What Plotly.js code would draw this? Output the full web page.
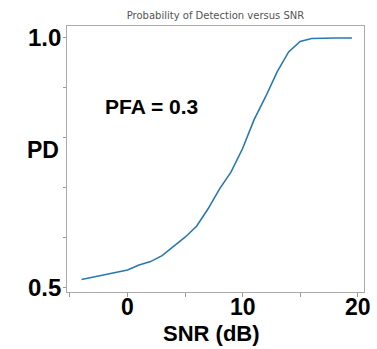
<!DOCTYPE html>
<html>
<head>
<meta charset="utf-8">
<script src="https://cdn.plot.ly/plotly-3.0.1.min.js"></script>
<style>html,body{margin:0;padding:0;background:#fff;}#chart{width:377px;height:349px;}</style>
</head>
<body>
<div id="chart"></div>
<script>
// Data
var snr = [-4, -3, -2, -1, 0, 1, 2, 3, 4, 5, 6, 7, 8, 9, 10, 11, 12, 13, 14, 15, 16, 17, 18, 19, 19.5];
var pd  = [0.515, 0.520, 0.525, 0.530, 0.534, 0.544, 0.551, 0.563, 0.581, 0.600, 0.622, 0.657, 0.697, 0.731, 0.778, 0.836, 0.882, 0.932, 0.972, 0.993, 0.999, 1.0, 1.0, 1.0, 1.0];

var xTickVals = [-5, 0, 5, 10, 15, 20];
var xTickText = ['', '0', '', '10', '', '20'];
var yTickVals = [0.5, 0.6, 0.7, 0.8, 0.9, 1.0];
var yTickText = ['0.5', '', '', '', '', '1.0'];

var titleText = 'Probability of Detection versus SNR';
var xLabel = 'SNR (dB)';
var yLabel = 'PD';
var noteText = 'PFA = 0.3';

var trace = {
  x: snr, y: pd, type: 'scatter', mode: 'lines',
  line: {color: '#2a78b0', width: 1.6},
  hoverinfo: 'skip'
};

var boldFont = 'Liberation Sans';
function bf(size) { return {family: boldFont, size: size, color: '#000', weight: 'bold'}; }

var annotations = [
  {text: '<b>' + yLabel + '</b>', xref: 'paper', yref: 'paper', x: -0.081, y: 0.534,
   xanchor: 'center', yanchor: 'middle', showarrow: false, font: bf(23)},
  {text: '<b>' + xLabel + '</b>', xref: 'paper', yref: 'paper', x: 0.485, y: -0.157,
   xanchor: 'center', yanchor: 'middle', showarrow: false, font: bf(22), borderpad: 0},
  {text: '<b>' + noteText + '</b>', xref: 'x', yref: 'y', x: 2.04, y: 0.862,
   xanchor: 'center', yanchor: 'middle', showarrow: false, font: bf(21)}
];
// tick labels drawn from the tick arrays, placed at the axis scale positions
xTickVals.forEach(function (v, i) {
  if (xTickText[i]) {
    annotations.push({text: '<b>' + xTickText[i] + '</b>', xref: 'x', yref: 'paper', x: v, y: -0.058,
      xanchor: 'center', yanchor: 'middle', showarrow: false, font: bf(23), borderpad: 0});
  }
});
yTickVals.forEach(function (v, i) {
  if (yTickText[i]) {
    annotations.push({text: '<b>' + yTickText[i] + '</b>', xref: 'paper', yref: 'y', x: -0.013, y: v,
      xanchor: 'right', yanchor: 'middle', showarrow: false, font: bf(24)});
  }
});

var layout = {
  width: 377, height: 349,
  margin: {l: 67, r: 13, t: 26, b: 57, pad: 0},
  paper_bgcolor: '#fff', plot_bgcolor: '#fff',
  showlegend: false,
  title: {
    text: titleText,
    font: {family: 'DejaVu Sans, sans-serif', size: 10, color: '#555'},
    x: 0.5, xref: 'paper', xanchor: 'center',
    y: 1 - 15.7/349, yanchor: 'middle'
  },
  xaxis: {
    range: [-5.26, 20.55],
    tickvals: xTickVals, showticklabels: false,
    ticks: 'outside', ticklen: 4, tickcolor: '#999', tickwidth: 1,
    showgrid: false, zeroline: false,
    showline: true, linecolor: '#aaa', linewidth: 1, mirror: true
  },
  yaxis: {
    range: [0.49, 1.024],
    tickvals: yTickVals, showticklabels: false,
    ticks: 'outside', ticklen: 3, tickcolor: '#999', tickwidth: 1,
    showgrid: false, zeroline: false,
    showline: true, linecolor: '#aaa', linewidth: 1, mirror: true
  },
  annotations: annotations
};

Plotly.newPlot('chart', [trace], layout, {staticPlot: true, displayModeBar: false});
</script>
</body>
</html>
